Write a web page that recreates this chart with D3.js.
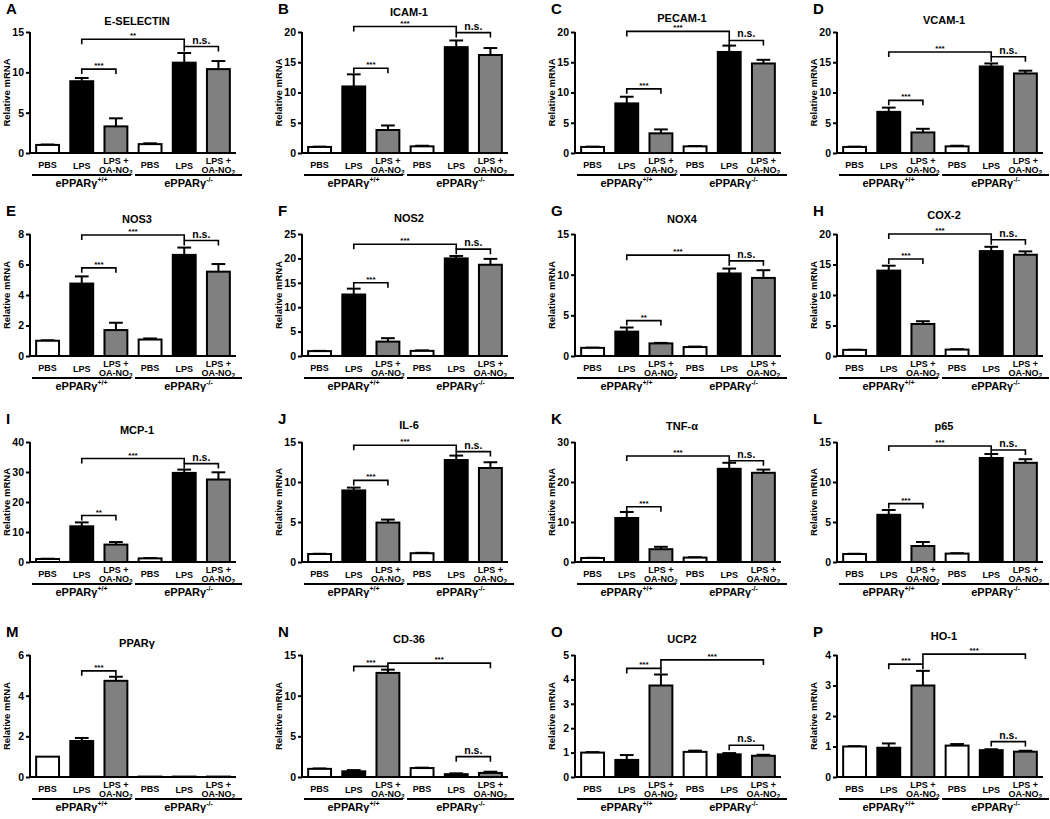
<!DOCTYPE html>
<html lang="en">
<head>
<meta charset="UTF-8">
<title>Relative mRNA panels</title>
<script src="https://d3js.org/d3.v7.min.js"></script>
<style>
  body { margin: 0; background: #fff; }
  svg { display: block; font-family: "Liberation Sans", Arial, sans-serif; font-weight: bold; }
</style>
</head>
<body>
<div id="chart"></div>
<script>
// ---- data ----
const panelLetters = ["A","B","C","D","E","F","G","H","I","J","K","L","M","N","O","P"]
const panelTitles = ["E-SELECTIN","ICAM-1","PECAM-1","VCAM-1","NOS3","NOS2","NOX4","COX-2",
                     "MCP-1","IL-6","TNF-α","p65","PPARγ","CD-36","UCP2","HO-1"]
const treatments = ["PBS","LPS","LPS+OA"]
const genotypes = ["+/+","-/-"]
const yMaxes = [15,20,20,20, 8,25,15,20, 40,15,30,15, 6,15,5,4]
const yTickSteps = [5,5,5,5, 2,5,5,5, 10,5,10,5, 2,5,1,1]

// bar order: PBS, LPS, LPS+OA (+/+) then PBS, LPS, LPS+OA (-/-)
const meanValues = [
  [1.0, 8.9, 3.3, 1.1, 11.2, 10.4],
  [1.0, 11.0, 3.8, 1.1, 17.5, 16.2],
  [1.0, 8.2, 3.25, 1.1, 16.7, 14.8],
  [1.0, 6.8, 3.4, 1.1, 14.3, 13.15],
  [1.0, 4.75, 1.7, 1.08, 6.63, 5.53],
  [1.0, 12.6, 2.95, 1.05, 20.0, 18.7],
  [1.0, 3.0, 1.55, 1.1, 10.15, 9.6],
  [1.0, 14.0, 5.25, 1.05, 17.2, 16.6],
  [1.0, 11.9, 5.8, 1.2, 29.7, 27.5],
  [1.0, 8.95, 4.93, 1.1, 12.75, 11.75],
  [1.0, 11.0, 3.2, 1.1, 23.3, 22.3],
  [1.0, 5.9, 2.0, 1.05, 13.0, 12.4],
  [1.0, 1.77, 4.73, 0.02, 0.02, 0.02],
  [1.0, 0.7, 12.8, 1.1, 0.35, 0.5],
  [1.0, 0.7, 3.75, 1.03, 0.93, 0.87],
  [1.0, 0.96, 3.0, 1.03, 0.88, 0.83]
]
const errValues = [
  [0.05, 0.4, 1.0, 0.1, 1.2, 1.0],
  [0.05, 2.0, 0.75, 0.1, 1.1, 1.15],
  [0.05, 1.1, 0.65, 0.05, 1.05, 0.6],
  [0.05, 0.7, 0.6, 0.1, 0.5, 0.45],
  [0.03, 0.47, 0.48, 0.07, 0.48, 0.5],
  [0.05, 1.2, 0.7, 0.1, 0.5, 1.2],
  [0.03, 0.5, 0.06, 0.06, 0.6, 0.95],
  [0.03, 0.8, 0.45, 0.06, 0.7, 0.55],
  [0.1, 1.3, 0.85, 0.1, 1.1, 2.4],
  [0.03, 0.35, 0.37, 0.05, 0.55, 0.72],
  [0.05, 1.5, 0.6, 0.1, 1.5, 0.8],
  [0.03, 0.6, 0.5, 0.05, 0.5, 0.45],
  [0, 0.15, 0.2, 0, 0, 0],
  [0.05, 0.15, 0.4, 0.05, 0.1, 0.15],
  [0.02, 0.2, 0.45, 0.05, 0.05, 0.04],
  [0.01, 0.14, 0.48, 0.05, 0.03, 0.03]
]
// [from bar, to bar, level (data units), label]
const brackets = [
  [[1,2,10.4,"***"],[1,4,14.1,"**"],[4,5,13.2,"n.s."]],
  [[1,2,14.0,"***"],[1,4,20.9,"***"],[4,5,19.9,"n.s."]],
  [[1,2,10.6,"***"],[1,4,20.1,"***"],[4,5,18.6,"n.s."]],
  [[1,2,8.7,"***"],[1,4,16.7,"***"],[4,5,15.9,"n.s."]],
  [[1,2,5.78,"***"],[1,4,7.93,"***"],[4,5,7.57,"n.s."]],
  [[1,2,15.0,"***"],[1,4,22.9,"***"],[4,5,21.9,"n.s."]],
  [[1,2,4.35,"**"],[1,4,12.4,"***"],[4,5,11.7,"n.s."]],
  [[1,2,15.9,"***"],[1,4,20.0,"***"],[4,5,19.05,"n.s."]],
  [[1,2,15.5,"**"],[1,4,34.5,"***"],[4,5,32.8,"n.s."]],
  [[1,2,10.2,"***"],[1,4,14.6,"***"],[4,5,13.8,"n.s."]],
  [[1,2,13.8,"***"],[1,4,26.5,"***"],[4,5,25.3,"n.s."]],
  [[1,2,7.3,"***"],[1,4,14.5,"***"],[4,5,14.0,"n.s."]],
  [[1,2,5.22,"***"]],
  [[1,2,13.6,"***"],[2,5,14.0,"***"],[4,5,2.5,"n.s."]],
  [[1,2,4.45,"***"],[2,5,4.8,"***"],[4,5,1.3,"n.s."]],
  [[1,2,3.7,"***"],[2,5,4.03,"***"],[4,5,1.16,"n.s."]]
]

// ---- layout ----
const W = 1050, H = 819
const colX = [30, 302, 575, 837]          // y-axis position of each column
const rowTop = [32, 234, 442, 655]         // y of the top tick
const rowBase = [153, 356, 562, 777]       // y of zero
const plotW = 206
const titleOffsets = [-7,-16,-10,-8, -11,-12,-11,-15, -8,-13,-12,-12, -8,-12,-12,-15]
const fills = {"PBS":"#ffffff","LPS":"#000000","LPS+OA":"#808080"}

const svg = d3.select("#chart").append("svg")
    .attr("width", W).attr("height", H)
    .attr("viewBox", [0, 0, W, H])

const barKeys = d3.range(6)

panelLetters.forEach((letter, p) => {
    const col = p % 4, row = Math.floor(p / 4)
    const x0 = colX[col], top = rowTop[row], base = rowBase[row]
    const g = svg.append("g").attr("class", "panel")

    const x = d3.scaleBand().domain(barKeys).range([x0, x0 + plotW])
                .paddingInner(0.33).paddingOuter(0.18)
    const y = d3.scaleLinear().domain([0, yMaxes[p]]).range([base, top])
    const cx = i => x(i) + x.bandwidth() / 2

    // panel letter + title
    g.append("text").attr("x", x0 - 24).attr("y", top - 18)
        .attr("font-size", 15).text(letter)
    g.append("text").attr("x", x0 + plotW / 2 + 4).attr("y", top + titleOffsets[p])
        .attr("text-anchor", "middle").attr("font-size", 11).text(panelTitles[p])

    // y axis
    const ticks = d3.range(0, yMaxes[p] + 1e-9, yTickSteps[p])
    const yAxis = g.append("g").attr("transform", `translate(${x0},0)`)
        .call(d3.axisLeft(y).tickValues(ticks).tickSize(4).tickPadding(2).tickFormat(d3.format("d")))
    yAxis.select(".domain").attr("stroke-width", 2).attr("d", `M0,${base}V${top}`)
    yAxis.selectAll(".tick line").attr("stroke-width", 2)
    yAxis.selectAll(".tick text").attr("font-size", 10.5).attr("font-weight", "bold")
        .attr("font-family", "Liberation Sans, Arial, sans-serif")

    g.append("text")
        .attr("transform", `translate(${x0 - 20},${(top + base) / 2}) rotate(-90)`)
        .attr("text-anchor", "middle").attr("font-size", 9.5).text("Relative mRNA")

    // bars
    const data = barKeys.map(i => ({
        i, mean: meanValues[p][i], err: errValues[p][i], treat: treatments[i % 3]
    }))
    g.selectAll(".err").data(data.filter(d => d.err > 0)).join("g").each(function(d) {
        const e = d3.select(this)
        const c = cx(d.i), capW = x.bandwidth() * 0.3
        e.append("line").attr("x1", c).attr("x2", c).attr("y1", y(d.mean)).attr("y2", y(d.mean + d.err))
            .attr("stroke", "#000").attr("stroke-width", 2)
        e.append("line").attr("x1", c - capW).attr("x2", c + capW)
            .attr("y1", y(d.mean + d.err)).attr("y2", y(d.mean + d.err))
            .attr("stroke", "#000").attr("stroke-width", 2)
    })
    g.selectAll(".bar").data(data).join("rect")
        .attr("x", d => x(d.i)).attr("width", x.bandwidth())
        .attr("y", d => y(d.mean)).attr("height", d => base - y(d.mean))
        .attr("fill", d => fills[d.treat]).attr("stroke", "#000").attr("stroke-width", 2)

    // x axis line
    g.append("line").attr("x1", x0).attr("x2", x0 + plotW).attr("y1", base).attr("y2", base)
        .attr("stroke", "#000").attr("stroke-width", 2)

    // significance brackets: short end ticks, joined to a lower bracket when it is close
    const bks = brackets[p]
    bks.forEach(([a, b, lvl, label]) => {
        const yy = y(lvl)
        const endY = idx => {
            const lower = bks.filter(o => o[2] < lvl && (o[0] === idx || o[1] === idx))
            if (lower.length) {
                const ly = y(d3.max(lower, o => o[2]))
                if (ly - yy < 13) return ly
            }
            return yy + 5
        }
        g.append("path")
            .attr("d", `M${cx(a)},${endY(a)}V${yy}H${cx(b)}V${endY(b)}`)
            .attr("fill", "none").attr("stroke", "#000").attr("stroke-width", 1.6)
        g.append("text").attr("x", (cx(a) + cx(b)) / 2)
            .attr("y", yy - (label === "n.s." ? 3 : 1))
            .attr("text-anchor", "middle")
            .attr("font-size", label === "n.s." ? 10.5 : 8)
            .text(label)
    })

    // category labels
    data.forEach(d => {
        if (d.treat === "LPS+OA") {
            g.append("text").attr("x", cx(d.i)).attr("y", base + 11)
                .attr("text-anchor", "middle").attr("font-size", 9).text("LPS +")
            const t = g.append("text").attr("x", cx(d.i)).attr("y", base + 20)
                .attr("text-anchor", "middle").attr("font-size", 9)
            t.append("tspan").text("OA-NO")
            t.append("tspan").attr("font-size", 6.5).attr("dy", 2).text("2")
        } else {
            g.append("text").attr("x", cx(d.i)).attr("y", base + (d.treat === "PBS" ? 15 : 16))
                .attr("text-anchor", "middle").attr("font-size", 9).text(d.treat)
        }
    })

    // genotype groups
    genotypes.forEach((gt, k) => {
        const gx1 = k === 0 ? x0 + 2 : (x(2) + x.bandwidth() + x(3)) / 2 + 2
        const gx2 = k === 0 ? (x(2) + x.bandwidth() + x(3)) / 2 - 2 : x0 + plotW + 6
        g.append("line").attr("x1", gx1).attr("x2", gx2).attr("y1", base + 22).attr("y2", base + 22)
            .attr("stroke", "#000").attr("stroke-width", 2)
        const t = g.append("text").attr("x", (gx1 + gx2) / 2).attr("y", base + 34)
            .attr("text-anchor", "middle").attr("font-size", 11)
        t.append("tspan").text("ePPARγ")
        t.append("tspan").attr("font-size", 7).attr("dy", -5).text(gt)
    })
})
</script>
</body>
</html>
